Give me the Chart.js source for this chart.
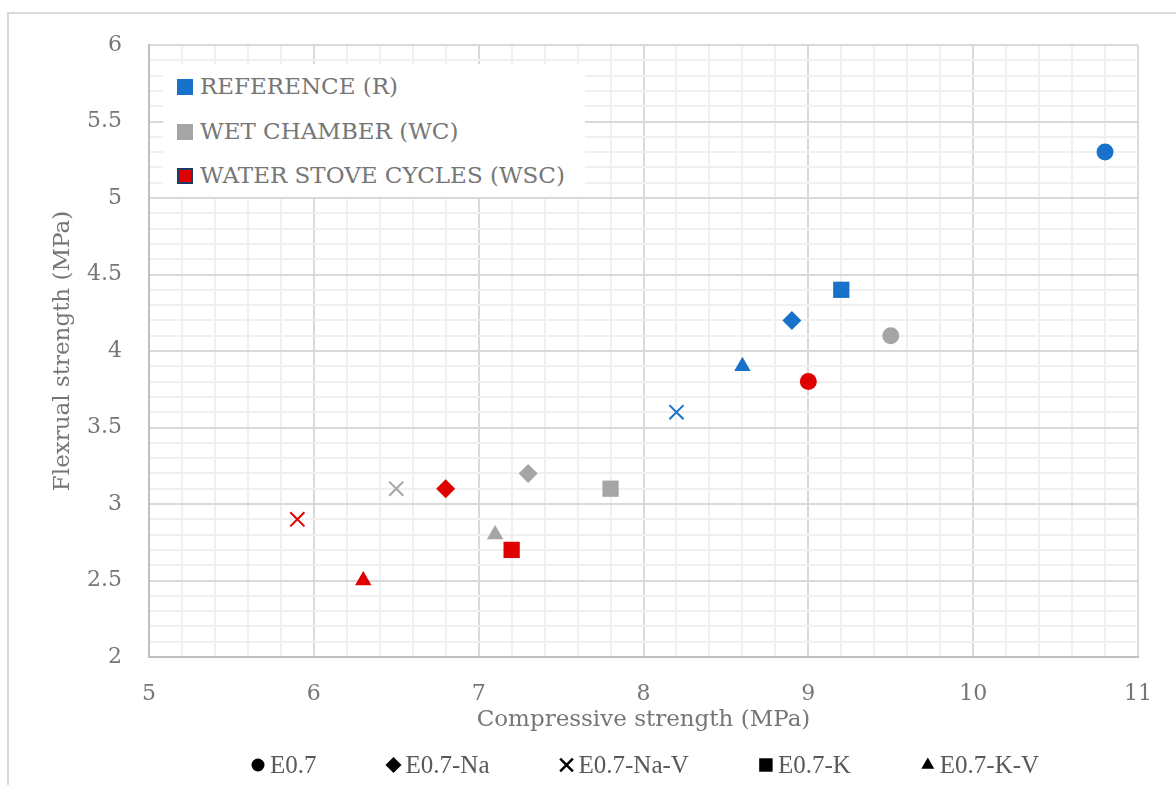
<!DOCTYPE html>
<html>
<head>
<meta charset="utf-8">
<script src="https://cdn.jsdelivr.net/npm/chart.js@4/dist/chart.umd.min.js"></script>
<style>
	html, body { margin: 0; padding: 0; background: #fff; }
	#wrap { position: relative; width: 1176px; height: 785px; overflow: hidden; }
	#frame { position: absolute; left: 7px; top: 12px; width: 1300px; height: 900px; border: 2px solid #d9d9d9; box-sizing: border-box; }
	#chart { position: absolute; left: 0; top: 0; }
	#box { position: absolute; left: 163px; top: 64px; width: 422px; height: 133px; background: #fff;
		font-family: "DejaVu Serif", serif; font-size: 23px; color: #767676; }
	#box .row { position: absolute; left: 14px; height: 26px; line-height: 26px; white-space: nowrap; }
	#box .mark { display: inline-block; width: 16px; height: 16px; vertical-align: -1px; margin-right: 7px; box-sizing: border-box; }
</style>
</head>
<body>
<div id="wrap">
	<div id="frame"></div>
	<canvas id="chart" width="1176" height="785"></canvas>
	<div id="box"></div>
</div>
<script>
const shapeNames = ["E0.7", "E0.7-Na", "E0.7-Na-V", "E0.7-K", "E0.7-K-V"];
const shapeStyles = ["circle", "rectRot", "crossRot", "rect", "triangle"];
const shapeRadius = [8.5, 9.5, 10, 11.5, 9.5];
const legendRadius = [6.5, 8, 9, 9.5, 7.5];

const conditionNames = ["REFERENCE (R)", "WET CHAMBER (WC)", "WATER STOVE CYCLES (WSC)"];
const conditionColors = ["#1872C9", "#A5A5A5", "#E00000"];

// compressive (x) / flexural (y) strength, one entry per mix in shapeNames order
const compR = [10.8, 8.9, 8.2, 9.2, 8.6];
const flexR = [5.3, 4.2, 3.6, 4.4, 3.9];
const compWC = [9.5, 7.3, 6.5, 7.8, 7.1];
const flexWC = [4.1, 3.2, 3.1, 3.1, 2.8];
const compWSC = [9.0, 6.8, 5.9, 7.2, 6.3];
const flexWSC = [3.8, 3.1, 2.9, 2.7, 2.5];

const xTickLabels = [5, 6, 7, 8, 9, 10, 11];
const yTickLabels = [2, 2.5, 3, 3.5, 4, 4.5, 5, 5.5, 6];

const textGrey = "#767676";
const serif = "'DejaVu Serif', serif";

function isLabelled(value, list) {
	return list.some((v) => Math.abs(v - value) < 1e-6);
}

const datasets = shapeNames.map((name, i) => ({
	label: name,
	data: [
		{ x: compR[i], y: flexR[i] },
		{ x: compWC[i], y: flexWC[i] },
		{ x: compWSC[i], y: flexWSC[i] },
	],
	pointStyle: shapeStyles[i],
	pointRadius: shapeRadius[i],
	pointHoverRadius: shapeRadius[i],
	backgroundColor: conditionColors,
	borderColor: conditionColors,
	borderWidth: shapeStyles[i] === "crossRot" ? 2 : 0,
}));

// colour legend in the top-left corner of the plot
const box = document.getElementById("box");
conditionNames.forEach((name, i) => {
	const row = document.createElement("div");
	row.className = "row";
	row.style.top = (9 + i * 44.5) + "px";
	const mark = document.createElement("span");
	mark.className = "mark";
	mark.style.background = conditionColors[i];
	if (i === 2) mark.style.border = "2px solid #1F3864";
	row.appendChild(mark);
	row.appendChild(document.createTextNode(name));
	box.appendChild(row);
});

// shape legend along the bottom, black markers
const bottomLegend = {
	id: "bottomLegend",
	afterDraw(chart) {
		const ctx = chart.ctx;
		const y = 765;
		let markX = 258;
		ctx.save();
		ctx.font = "25px 'Liberation Serif', serif";
		ctx.textBaseline = "middle";
		shapeNames.forEach((name, i) => {
			const isCross = shapeStyles[i] === "crossRot";
			ctx.fillStyle = "#000";
			ctx.strokeStyle = "#000";
			ctx.lineWidth = isCross ? 2.5 : 0;
			Chart.helpers.drawPoint(ctx, {
				pointStyle: shapeStyles[i],
				radius: legendRadius[i],
				borderWidth: isCross ? 2.5 : 0,
			}, markX, y);
			const textX = markX + 12;
			ctx.fillStyle = "#595959";
			ctx.fillText(name, textX, y + 1);
			markX = textX + ctx.measureText(name).width + 77;
		});
		ctx.restore();
	},
};

new Chart(document.getElementById("chart"), {
	type: "scatter",
	data: { datasets },
	plugins: [bottomLegend],
	options: {
		responsive: false,
		animation: false,
		events: [],
		layout: {
			padding: { left: 0, top: 45, right: 38, bottom: 51 },
		},
		plugins: {
			tooltip: { enabled: false },
			legend: { display: false },
		},
		scales: {
			x: {
				type: "linear",
				min: 5,
				max: 11,
				afterFit: (scale) => { scale.height = 77; },
				grid: {
					drawTicks: false,
					lineWidth: 2,
					color: (ctx) => (isLabelled(ctx.tick.value, xTickLabels) ? "#d9d9d9" : "#f0f0f0"),
				},
				border: { color: "#bfbfbf", width: 2 },
				ticks: {
					stepSize: 0.2,
					autoSkip: false,
					maxRotation: 0,
					padding: 24,
					color: textGrey,
					font: { family: serif, size: 22 },
					callback: (v) => (isLabelled(v, xTickLabels) ? String(Math.round(v)) : ""),
				},
				title: {
					display: true,
					text: "Compressive strength (MPa)",
					color: textGrey,
					font: { family: serif, size: 23 },
					padding: { top: 4, bottom: 0 },
				},
			},
			y: {
				type: "linear",
				min: 2,
				max: 6,
				afterFit: (scale) => { scale.width = 149; },
				grid: {
					drawTicks: false,
					lineWidth: 2,
					color: (ctx) => (isLabelled(ctx.tick.value, yTickLabels) ? "#d9d9d9" : "#f0f0f0"),
				},
				border: { color: "#bfbfbf", width: 2 },
				ticks: {
					stepSize: 0.1,
					autoSkip: false,
					padding: 27,
					color: textGrey,
					font: { family: serif, size: 22 },
					callback: (v) => (isLabelled(v, yTickLabels) ? String(Math.round(v * 10) / 10) : ""),
				},
				title: {
					display: true,
					text: "Flexrual strength (MPa)",
					color: textGrey,
					font: { family: serif, size: 23 },
					padding: { top: 49, bottom: 0 },
				},
			},
		},
	},
});
</script>
</body>
</html>
